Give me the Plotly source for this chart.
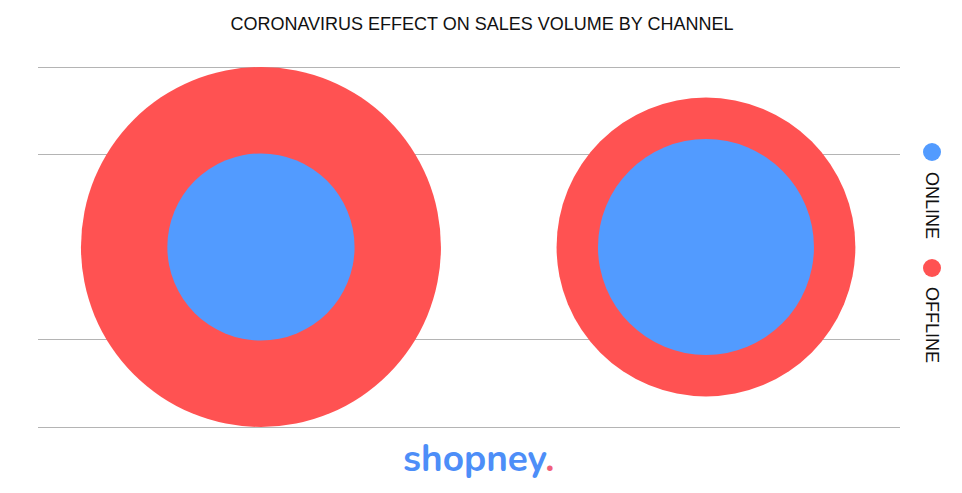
import plotly.graph_objects as go

# Data
periods = ["Before", "After"]
period_pos = [0, 1]
offline_volume = [100, 83]
online_volume = [52, 60]
series_names = ["ONLINE", "OFFLINE"]
grid_vals = [-2.0, -1.03, 1.03, 2.0]

RED = "#FF5252"
BLUE = "#529BFF"

fig = go.Figure()
fig.add_trace(go.Scatter(
    x=period_pos, y=[0, 0], mode="markers", name="OFFLINE",
    text=periods,
    marker=dict(size=offline_volume, sizemode="diameter", sizeref=100 / 360,
                color=RED, line=dict(width=0), opacity=1),
    cliponaxis=False, showlegend=False,
))
fig.add_trace(go.Scatter(
    x=period_pos, y=[0, 0], mode="markers", name="ONLINE",
    text=periods,
    marker=dict(size=online_volume, sizemode="diameter", sizeref=100 / 360,
                color=BLUE, line=dict(width=0), opacity=1),
    cliponaxis=False, showlegend=False,
))

OFF = 8  # page body margin
W, H = 962 - OFF, 493 - OFF
ml, mr, mt, mb = 38 - OFF, 62, 65 - OFF, 64

def px_to_paper_x(px):
    return (px - OFF - ml) / (W - ml - mr)

def px_to_paper_y(py):
    return (H - mb - (py - OFF)) / (H - mt - mb)

shapes = []
annotations = []
legend_colors = [BLUE, RED]
legend_dot_y = [152, 268]
legend_text_y = [205, 325]
for name, col, dy, ty in zip(series_names, legend_colors, legend_dot_y, legend_text_y):
    r = 9
    shapes.append(dict(type="circle", xref="paper", yref="paper",
                       x0=px_to_paper_x(932 - r), x1=px_to_paper_x(932 + r),
                       y0=px_to_paper_y(dy + r), y1=px_to_paper_y(dy - r),
                       fillcolor=col, line=dict(width=0), layer="above"))
    annotations.append(dict(text=name, xref="paper", yref="paper",
                            x=px_to_paper_x(932), y=px_to_paper_y(ty),
                            showarrow=False, textangle=90,
                            font=dict(family="Liberation Sans, Arial", size=18, color="#111111"),
                            xanchor="center", yanchor="middle"))

annotations.append(dict(
    text="<b>shopney</b><b><span style='color:#F0607A'>.</span></b>",
    xref="paper", yref="paper", x=px_to_paper_x(479), y=px_to_paper_y(459),
    showarrow=False, xanchor="center", yanchor="middle",
    font=dict(family="Nunito, Lato, Open Sans, sans-serif", size=37, color="#4D8EF8",
              weight=900),
))

fig.update_layout(
    width=W, height=H,
    margin=dict(l=ml, r=mr, t=mt, b=mb),
    paper_bgcolor="white", plot_bgcolor="white",
    title=dict(text="CORONAVIRUS EFFECT ON SALES VOLUME BY CHANNEL",
               x=(482 - OFF) / W, xanchor="center",
               y=1 - (24 - OFF) / H, yanchor="middle",
               xref="container", yref="container",
               font=dict(family="Liberation Sans, Arial", size=18, color="#111111")),
    xaxis=dict(range=[-0.501, 1.436], showgrid=False, zeroline=False,
               showticklabels=False, showline=False, ticks=""),
    yaxis=dict(range=[-2.0222, 2.0222], tickvals=grid_vals, showgrid=True,
               gridcolor="#B4B4B4", gridwidth=1.3, zeroline=False,
               showticklabels=False, showline=False, ticks=""),
    shapes=shapes,
    annotations=annotations,
    showlegend=False,
)

fig.write_html("out.html")
